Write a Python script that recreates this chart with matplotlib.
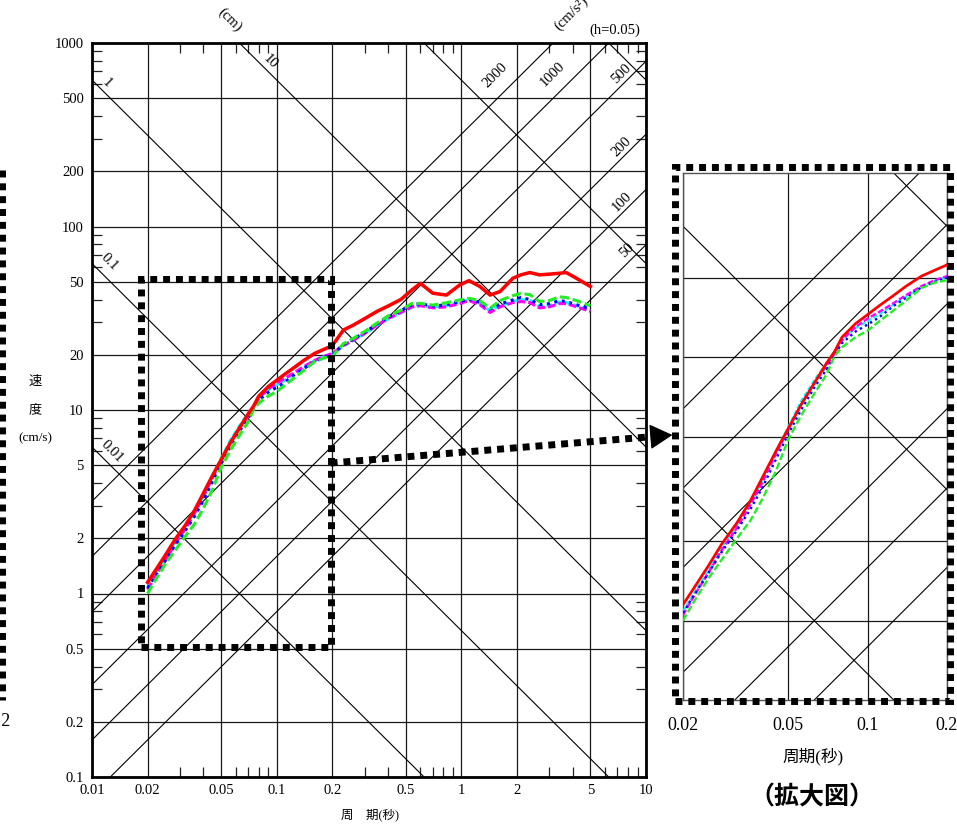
import numpy as np
import matplotlib
matplotlib.use("Agg")
import matplotlib.pyplot as plt
from matplotlib.lines import Line2D
from matplotlib.patches import Rectangle

plt.rcParams['font.family'] = ['Liberation Serif', 'Noto Sans CJK JP']

# response spectrum data (period [s] -> velocity [cm/s])
period = [0.02, 0.022, 0.025, 0.028, 0.032, 0.036, 0.04, 0.045, 0.05, 0.056,
          0.063, 0.07, 0.075, 0.08, 0.09, 0.1, 0.11, 0.125, 0.14, 0.16,
          0.18, 0.2, 0.23, 0.26, 0.3, 0.35, 0.4, 0.47, 0.54, 0.6,
          0.7, 0.83, 0.98, 1.1, 1.26, 1.43, 1.62, 1.9, 2.1, 2.35,
          2.65, 3.0, 3.4, 3.7, 4.2, 5.0]
vel_red = [1.15, 1.33, 1.62, 1.95, 2.35, 2.85, 3.5, 4.4, 5.35, 6.6,
           8.0, 9.5, 10.5, 11.9, 13.4, 14.5, 15.6, 17.1, 18.6, 20.3,
           21.4, 22.4, 27.3, 29.0, 31.5, 34.5, 36.8, 40.0, 45.1, 49.0,
           43.3, 42.3, 48.0, 50.7, 47.1, 42.3, 44.2, 52.2, 54.5, 56.1,
           54.5, 55.0, 55.6, 56.1, 52.2, 47.1]
vel_green = [1.0, 1.18, 1.45, 1.7, 2.05, 2.4, 2.9, 3.7, 4.85, 6.0,
             7.3, 8.6, 10.1, 10.9, 11.9, 12.6, 13.6, 15.0, 16.4, 18.3,
             19.2, 19.6, 23.0, 24.6, 26.8, 29.8, 32.5, 35.0, 38.1, 38.1,
             37.3, 38.4, 39.8, 40.6, 39.5, 35.8, 39.5, 42.0, 43.2, 42.5,
             39.0, 39.5, 41.4, 41.0, 39.5, 37.0]
vel_blue = [1.07, 1.25, 1.52, 1.82, 2.2, 2.65, 3.2, 4.1, 5.1, 6.3,
            7.7, 9.0, 10.2, 11.3, 12.5, 13.3, 14.1, 15.6, 16.8, 18.4,
            19.3, 20.0, 22.8, 24.3, 26.5, 29.5, 32.0, 34.8, 37.5, 38.0,
            36.8, 37.5, 39.0, 40.2, 38.5, 35.5, 37.8, 39.8, 41.0, 40.0,
            37.5, 38.0, 39.5, 39.0, 37.5, 35.5]
vel_magenta = [1.05, 1.24, 1.52, 1.85, 2.25, 2.75, 3.35, 4.3, 5.3, 6.6,
               8.0, 9.3, 10.3, 11.6, 13.0, 14.0, 14.8, 16.0, 17.2, 18.6,
               19.6, 20.3, 22.5, 24.0, 26.2, 29.0, 31.5, 34.0, 36.5, 37.0,
               36.0, 36.5, 38.0, 39.5, 37.5, 34.0, 36.5, 38.5, 39.0, 38.5,
               36.0, 36.5, 38.0, 38.0, 36.5, 34.5]
vel_cyan = [1.08, 1.27, 1.56, 1.9, 2.3, 2.8, 3.4, 4.4, 5.4, 6.8,
            8.2, 9.5, 10.5, 11.7, 12.9, 13.7, 14.5, 15.8, 17.0, 18.5,
            19.5, 20.2, 22.3, 24.0, 26.0, 29.0, 31.3, 33.8, 36.2, 37.2,
            36.3, 37.0, 38.5, 39.8, 38.0, 34.8, 37.0, 39.0, 40.0, 39.5,
            36.8, 37.0, 38.8, 38.5, 37.0, 35.0]

# tripartite guide lines
disp_values = [0.01, 0.1, 1, 10, 100, 1000]      # cm
acc_values = [50, 100, 200, 500, 1000, 2000]     # cm/s^2

x_ticks = [0.01, 0.02, 0.05, 0.1, 0.2, 0.5, 1, 2, 5, 10]
x_tick_labels = ['0.01', '0.02', '0.05', '0.1', '0.2', '0.5', '1', '2', '5', '10']
y_ticks = [0.1, 0.2, 0.5, 1, 2, 5, 10, 20, 50, 100, 200, 500, 1000]
y_tick_labels = ['0.1', '0.2', '0.5', '1', '2', '5', '10', '20', '50', '100', '200', '500', '1000']

inset_x_ticks = [0.02, 0.05, 0.1, 0.2]
inset_x_labels = ['0.02', '0.05', '0.1', '0.2']
inset_y_grid = [1, 2, 5, 10, 20]

# label positions (period, velocity) for guide line labels
disp_labels = [('1', 0.0120, 603), ('10', 0.092, 791), ('0.1', 0.0125, 64.3), ('0.01', 0.0128, 5.93)]
acc_labels = [('2000', 1.52, 669), ('1000', 3.13, 678), ('500', 7.38, 683),
              ('200', 7.40, 271), ('100', 7.40, 136), ('50', 7.88, 74.5)]

series = [
    (vel_cyan, '#00FFFF', (0, (2, 1))),
    (vel_magenta, '#FF00FF', (0, (2.5, 1))),
    (vel_blue, '#0000FF', (0, (1, 1.5))),
    (vel_green, '#22EE22', (0, (3, 1.2))),
    (vel_red, '#FF0000', '-'),
]

T_line = np.array([0.001, 100.0])
DOT = (0, (1, 0.85))


def draw_guides(ax):
    for d in disp_values:
        ax.plot(T_line, 2 * np.pi * d / T_line, color='k', lw=0.8, zorder=2)
    for a in acc_values:
        ax.plot(T_line, a * T_line / (2 * np.pi), color='k', lw=0.8, zorder=2)


def draw_curves(ax, lw):
    for vals, col, ls in series:
        w = lw * 1.15 if ls == '-' else lw
        ax.plot(period, vals, color=col, ls=ls, lw=w, zorder=4)


fig = plt.figure(figsize=(9.57, 8.32), dpi=100)

# main chart
ax = fig.add_axes([92 / 957, 1 - 777 / 832, 554 / 957, 734 / 832])
ax.set_xscale('log')
ax.set_yscale('log')
ax.set_xlim(0.01, 10)
ax.set_ylim(0.1, 1000)
ax.set_xticks(x_ticks)
ax.set_xticklabels(x_tick_labels)
ax.set_yticks(y_ticks)
ax.set_yticklabels(y_tick_labels)
ax.set_xticks([m * 10.0 ** k for k in range(-2, 1) for m in (3, 4, 6, 7, 8, 9)], minor=True)
ax.set_yticks([m * 10.0 ** k for k in range(-1, 3) for m in (3, 4, 6, 7, 8, 9)], minor=True)
ax.xaxis.set_minor_formatter(plt.NullFormatter())
ax.yaxis.set_minor_formatter(plt.NullFormatter())
ax.tick_params(which='major', length=0, labelsize=10.5, pad=6)
ax.tick_params(axis='x', which='major', pad=5)
ax.tick_params(which='minor', direction='in', length=7, width=0.9,
               top=True, right=True, color='#222222')
ax.grid(which='major', color='#1a1a1a', lw=0.9)
ax.set_axisbelow(True)
for sp in ax.spines.values():
    sp.set_linewidth(2)
    sp.set_zorder(6)

draw_guides(ax)
draw_curves(ax, 2.2)

for txt, t, v in disp_labels:
    ax.text(t, v, txt, rotation=-45, fontsize=10.5, ha='center', va='center', zorder=5)
for txt, t, v in acc_labels:
    ax.text(t, v, txt, rotation=45, fontsize=10.5, ha='center', va='center', zorder=5)
ax.text(0.0558, 1335, '(cm)', rotation=-45, fontsize=10.5, ha='center', va='center')
ax.text(3.95, 1450, '(cm/s²)', rotation=45, fontsize=10.5, ha='center', va='center')
ax.text(0.944, 1.018, '(h=0.05)', transform=ax.transAxes, fontsize=10.5, ha='center', va='center')

# dotted region marker and arrow to the zoomed view
ax.add_patch(Rectangle((0.0185, 0.51), 0.196 - 0.0185, 51.5 - 0.51, fill=False,
                       lw=5, ls=DOT, ec='k', zorder=7))
ax.plot([0.196, 11.0], [5.14, 7.17], color='k', lw=5, ls=DOT,
        dash_capstyle='butt', clip_on=False, zorder=7)
ax.annotate('', xy=(13.9, 7.31), xytext=(10.8, 7.16), annotation_clip=False,
            arrowprops=dict(arrowstyle='-|>,head_length=0.72,head_width=0.4',
                            color='k', lw=1, shrinkA=0, shrinkB=0, mutation_scale=20))

fig.text(35 / 957, 1 - 382 / 832, '速', fontsize=9.5, ha='center', va='center')
fig.text(35 / 957, 1 - 410 / 832, '度', fontsize=9.5, ha='center', va='center')
fig.text(35 / 957, 1 - 438 / 832, '(cm/s)', fontsize=9.5, ha='center', va='center')
fig.text(370 / 957, 1 - 815 / 832, '周\u3000期(秒)', fontsize=9, ha='center', va='center')

# zoomed view
ax2 = fig.add_axes([683 / 957, 1 - 700 / 832, 264 / 957, 527 / 832])
ax2.set_xscale('log')
ax2.set_yscale('log')
ax2.set_xlim(0.02, 0.2)
ax2.set_ylim(0.5, 50)
ax2.set_xticks(inset_x_ticks)
ax2.set_xticklabels(inset_x_labels)
ax2.set_yticks(inset_y_grid)
ax2.set_yticklabels([])
ax2.xaxis.set_minor_locator(plt.NullLocator())
ax2.yaxis.set_minor_locator(plt.NullLocator())
ax2.tick_params(which='major', length=0, labelsize=13, pad=12)
ax2.grid(which='major', color='#1a1a1a', lw=0.9)
ax2.set_axisbelow(True)
for sp in ax2.spines.values():
    sp.set_linewidth(1)
    sp.set_color('#555555')
draw_guides(ax2)
draw_curves(ax2, 1.7)
ax2.add_patch(Rectangle((-0.03, -0.002), 1.041, 1.013, transform=ax2.transAxes,
                        fill=False, lw=5, ls=DOT, ec='k', clip_on=False, zorder=7))
fig.text(813 / 957, 1 - 757 / 832, '周期(秒)', fontsize=12, ha='center', va='center')
fig.text(812 / 957, 1 - 797 / 832, '（拡大図）', fontsize=18, fontweight='bold',
         family='Noto Sans CJK JP', ha='center', va='center')

# edge of the neighbouring (cropped) panel
fig.add_artist(Line2D([2 / 957, 2 / 957], [1 - 170 / 832, 1 - 700 / 832], color='k',
                      lw=5, ls=DOT, transform=fig.transFigure))
fig.text(11 / 957, 1 - 722 / 832, '0.2', fontsize=13, ha='right', va='center')

fig.savefig('out.png', dpi=100)
